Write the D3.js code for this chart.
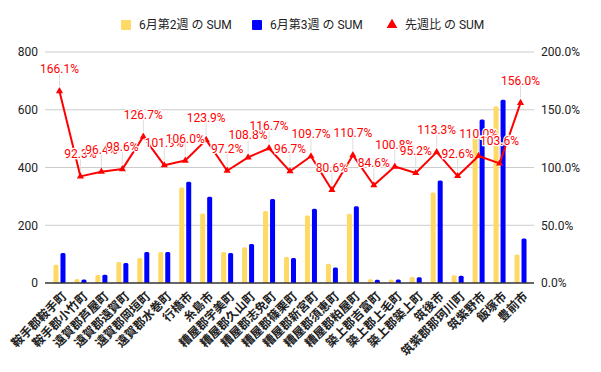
<!DOCTYPE html>
<html>
<head>
<meta charset="utf-8">
<script src="https://cdn.jsdelivr.net/npm/d3@7"></script>
<style>
  body { margin: 0; background: #fff; }
  text { font-family: Roboto, "Noto Sans CJK JP", sans-serif; }
</style>
</head>
<body>
<div id="plot"></div>
<script>
// data
var towns = ["鞍手郡鞍手町", "鞍手郡小竹町", "遠賀郡芦屋町", "遠賀郡遠賀町", "遠賀郡岡垣町", "遠賀郡水巻町",
    "行橋市", "糸島市", "糟屋郡宇美町", "糟屋郡久山町", "糟屋郡志免町", "糟屋郡篠栗町", "糟屋郡新宮町",
    "糟屋郡須恵町", "糟屋郡粕屋町", "築上郡吉富町", "築上郡上毛町", "築上郡築上町", "筑後市",
    "筑紫郡那珂川町", "筑紫野市", "飯塚市", "豊前市"];
var week2 = [63, 14, 28, 73, 87, 107, 331, 241, 107, 124, 249, 90, 234, 67, 240, 13, 12, 21, 313, 27, 515, 612, 99];
var week3 = [104, 12, 29, 69, 107, 107, 351, 299, 104, 135, 291, 87, 257, 54, 266, 11, 12, 20, 355, 25, 566, 635, 154];
var ratio = [166.1, 92.3, 96.4, 98.6, 126.7, 101.9, 106.0, 123.9, 97.2, 108.8, 116.7, 96.7, 109.7, 80.6, 110.7,
    84.6, 100.8, 95.2, 113.3, 92.6, 110.0, 103.6, 156.0];
var leftTicks = [0, 200, 400, 600, 800];
var rightTicks = [0, 50, 100, 150, 200];
var legendNames = ["6月第2週 の SUM", "6月第3週 の SUM", "先週比 の SUM"];

/* Step 1: workspace */
var svgWidth = 601;
var svgHeight = 372;
var margin = { top: 52, right: 70, bottom: 89, left: 49 };
var width = svgWidth - margin.left - margin.right;
var height = svgHeight - margin.top - margin.bottom;

var svg = d3.select("#plot")
    .append("svg")
    .attr("width", svgWidth)
    .attr("height", svgHeight);

var chartGroup = svg.append("g")
    .attr("transform", `translate(${margin.left}, ${margin.top})`);

/* Step 2: scales */
var xScale = d3.scaleBand()
    .domain(towns)
    .range([0, width]);

var yLeft = d3.scaleLinear()
    .domain([0, 800])
    .range([height, 0]);

var yRight = d3.scaleLinear()
    .domain([0, 200])
    .range([height, 0]);

/* Step 3: grid + axes */
chartGroup.selectAll(".grid")
    .data(leftTicks.slice(1))
    .enter()
    .append("line")
    .attr("x1", -4)
    .attr("x2", width + 3)
    .attr("y1", d => yLeft(d))
    .attr("y2", d => yLeft(d))
    .attr("stroke", "#cccccc")
    .attr("stroke-width", 1);

var leftAxis = d3.axisLeft(yLeft).tickValues(leftTicks).tickSize(0).tickPadding(11);
chartGroup.append("g").call(leftAxis)
    .call(g => g.select(".domain").remove())
    .selectAll("text")
    .attr("font-size", 12)
    .attr("fill", "#222");

var rightAxis = d3.axisRight(yRight).tickValues(rightTicks).tickSize(0).tickPadding(10)
    .tickFormat(d => d.toFixed(1) + "%");
chartGroup.append("g")
    .attr("transform", `translate(${width}, 0)`)
    .call(rightAxis)
    .call(g => g.select(".domain").remove())
    .selectAll("text")
    .attr("font-size", 12)
    .attr("fill", "#222");

/* Step 4: bars */
var barW = 5;
function barPath(x, y, w, h) {
    var r = Math.min(1.5, h);
    return `M${x},${y + h} V${y + r} Q${x},${y} ${x + r},${y} H${x + w - r} Q${x + w},${y} ${x + w},${y + r} V${y + h} Z`;
}

chartGroup.selectAll(".bar2")
    .data(week2)
    .enter()
    .append("path")
    .attr("d", (d, i) => barPath(xScale(towns[i]) + xScale.bandwidth() / 2 - barW - 1, yLeft(d), barW, height - yLeft(d)))
    .attr("fill", "#ffd966");

chartGroup.selectAll(".bar3")
    .data(week3)
    .enter()
    .append("path")
    .attr("d", (d, i) => barPath(xScale(towns[i]) + xScale.bandwidth() / 2 + 1, yLeft(d), barW, height - yLeft(d)))
    .attr("fill", "#0000ff");

// baseline
chartGroup.append("line")
    .attr("x1", -4)
    .attr("x2", width + 3)
    .attr("y1", height)
    .attr("y2", height)
    .attr("stroke", "#333")
    .attr("stroke-width", 1.3);

/* Step 5: ratio line */
var cx = (d, i) => xScale(towns[i]) + xScale.bandwidth() / 2;

// leader lines for labels
chartGroup.selectAll(".leader")
    .data(ratio)
    .enter()
    .append("line")
    .attr("x1", cx)
    .attr("x2", cx)
    .attr("y1", d => yRight(d) - 5)
    .attr("y2", d => yRight(d) - 17)
    .attr("stroke", "#dddddd")
    .attr("stroke-width", 1);

var lineGenerator = d3.line()
    .x(cx)
    .y(d => yRight(d));

chartGroup.append("path")
    .attr("d", lineGenerator(ratio))
    .attr("fill", "none")
    .attr("stroke", "#ff0000")
    .attr("stroke-width", 2)
    .attr("stroke-linejoin", "round");

var tri = d3.symbol().type(d3.symbolTriangle).size(22);
chartGroup.selectAll(".marker")
    .data(ratio)
    .enter()
    .append("path")
    .attr("d", tri)
    .attr("transform", (d, i) => `translate(${cx(d, i)}, ${yRight(d)})`)
    .attr("fill", "#ff0000");

chartGroup.selectAll(".dlabel")
    .data(ratio)
    .enter()
    .append("text")
    .attr("x", cx)
    .attr("y", d => yRight(d) - 18)
    .attr("text-anchor", "middle")
    .attr("font-size", 12)
    .attr("fill", "#ff0000")
    .attr("stroke", "#fff")
    .attr("stroke-width", 2.5)
    .attr("paint-order", "stroke")
    .text(d => d.toFixed(1) + "%");

/* Step 6: x labels */
chartGroup.selectAll(".xlabel")
    .data(towns)
    .enter()
    .append("text")
    .attr("transform", d => `translate(${xScale(d) + xScale.bandwidth() / 2 + 8}, ${height + 14}) rotate(-45)`)
    .attr("text-anchor", "end")
    .attr("font-size", 12)
    .attr("font-weight", "bold")
    .attr("fill", "#222")
    .text(d => d);

/* Step 7: legend */
var legend = svg.append("g");
var legendX = [121, 252, 387];
var legendColors = ["#ffd966", "#0000ff", "#ff0000"];
legendNames.forEach(function (name, i) {
    var g = legend.append("g").attr("transform", `translate(${legendX[i]}, 25)`);
    if (i < 2) {
        g.append("rect")
            .attr("x", 0).attr("y", -5).attr("width", 10).attr("height", 10)
            .attr("rx", 1)
            .attr("fill", legendColors[i]);
    } else {
        g.append("path")
            .attr("d", d3.symbol().type(d3.symbolTriangle).size(50)())
            .attr("transform", "translate(5, 0)")
            .attr("fill", legendColors[i]);
    }
    g.append("text")
        .attr("x", 18)
        .attr("y", 4)
        .attr("font-size", 12)
        .attr("fill", "#222")
        .text(name);
});
</script>
</body>
</html>
